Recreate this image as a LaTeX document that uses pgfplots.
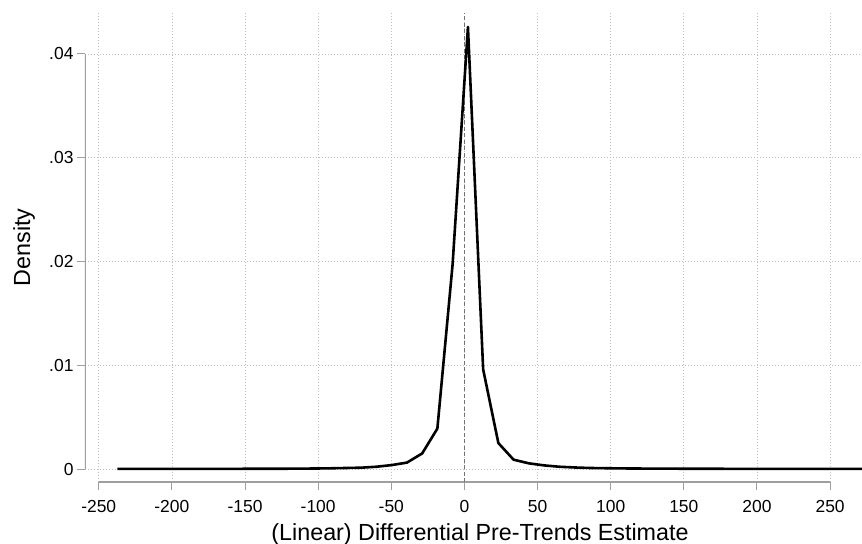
\documentclass[border=0pt]{standalone}
\usepackage{fontspec}
\setmainfont{Liberation Sans}
\usepackage{pgfplots}
\pgfplotsset{compat=1.18}
\begin{document}
\begin{tikzpicture}
\begin{axis}[
  scale only axis,
  width=777bp, height=469bp,
  xmin=-259.4, xmax=271.8,
  ymin=-0.00125, ymax=0.04395,
  axis line style={draw=none},
  xtick={-250,-200,-150,-100,-50,0,50,100,150,200,250},
  xticklabels={-250,-200,-150,-100,-50,0,50,100,150,200,250},
  ytick={0,0.01,0.02,0.03,0.04},
  yticklabels={0,.01,.02,.03,.04},
  tick align=outside,
  major tick length=8bp,
  tick style={draw=black!38, line width=1bp},
  xtick pos=bottom, ytick pos=left,
  grid=major,
  major grid style={draw=black!25, line width=0.7bp, dash pattern=on 0.8bp off 2.2bp},
  tick label style={font=\fontsize{17.5}{19}\selectfont},
  xticklabel style={anchor=base, yshift=-22bp},
  yticklabel style={anchor=east, xshift=0bp},
  xlabel={(Linear) Differential Pre-Trends Estimate},
  ylabel={Density},
  label style={font=\fontsize{23.4}{26}\selectfont},
  xlabel style={at={(axis description cs:0.5084,0)}, anchor=base, yshift=-58bp},
  ylabel style={at={(axis description cs:0,0.5)}, anchor=center, yshift=61bp},
]
\draw[black!38, line width=1.3bp] (axis cs:-250,-0.00125) -- (axis cs:250,-0.00125);
\draw[black!38, line width=1.3bp] (axis cs:-259.4,0) -- (axis cs:-259.4,0.04);
\draw[black!55, line width=1.5bp, dash pattern=on 4bp off 2.5bp] (axis cs:0,-0.00125) -- (axis cs:0,0.04395);
\addplot[black, line width=2.6bp, line join=round, mark=none] coordinates {
(-237.3,0.00002) (-226.9,0.00002) (-216.4,0.00002) (-206.0,0.00002) (-195.6,0.00002)
(-185.2,0.00002) (-174.8,0.00002) (-164.3,0.00002) (-153.9,0.00002) (-143.5,0.00003)
(-133.1,0.00003) (-122.7,0.00003) (-112.3,0.00004) (-101.8,0.00005) (-91.4,0.00007)
(-81.0,0.00010) (-70.6,0.00013) (-60.2,0.00022) (-49.8,0.00038) (-39.3,0.00062)
(-28.9,0.0015) (-18.5,0.0039) (-8.1,0.0197) (2.4,0.0426) (12.8,0.0096)
(23.2,0.0025) (33.6,0.0009) (44.0,0.00055) (54.5,0.00035) (64.9,0.00022)
(75.3,0.00015) (85.7,0.00010) (96.1,0.00008) (106.5,0.00006) (117.0,0.00005)
(127.4,0.00004) (137.8,0.00004) (148.2,0.00003) (158.6,0.00003) (169.0,0.00003)
(179.5,0.00002) (189.9,0.00002) (200.3,0.00002) (210.7,0.00002) (221.1,0.00002)
(231.5,0.00002) (242.0,0.00002) (252.4,0.00002) (262.8,0.00002) (273.2,0.00002)
};
\end{axis}
\pgfresetboundingbox
\path[use as bounding box] ([xshift=-85bp,yshift=-62bp]current axis.south west) rectangle ([yshift=13bp]current axis.north east);
\end{tikzpicture}
\end{document}
